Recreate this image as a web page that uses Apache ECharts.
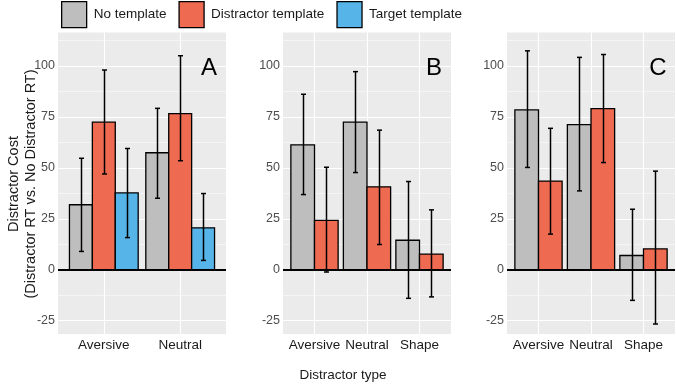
<!DOCTYPE html>
<html>
<head>
<meta charset="utf-8">
<script src="https://cdn.jsdelivr.net/npm/echarts@6/dist/echarts.min.js"></script>
</head>
<body style="margin:0">
<div id="chart" style="width:676px;height:386px"></div>
<script>
const FONT = '"Liberation Sans", Arial, sans-serif';

// categories
const catsA = ['Aversive', 'Neutral'];
const catsBC = ['Aversive', 'Neutral', 'Shape'];
const seriesNames = ['No template', 'Distractor template', 'Target template'];
const colors = ['#BEBEBE', '#EE6A50', '#56B4E9'];

// panel A
const noTplA = [31.9, 57.4], noTplA_lo = [9.0, 35.1], noTplA_hi = [54.7, 79.2];
const disTplA = [72.4, 76.6], disTplA_lo = [47.0, 53.5], disTplA_hi = [98.0, 105.0];
const tgtTplA = [37.7, 20.6], tgtTplA_lo = [15.8, 4.6], tgtTplA_hi = [59.5, 37.4];
// panel B
const noTplB = [61.3, 72.4, 14.5], noTplB_lo = [36.9, 47.7, -14.0], noTplB_hi = [86.1, 97.2, 43.3];
const disTplB = [24.2, 40.7, 7.7], disTplB_lo = [-1.1, 12.4, -13.3], disTplB_hi = [50.3, 68.5, 29.4];
// panel C
const noTplC = [78.4, 71.2, 7.0], noTplC_lo = [50.2, 38.7, -15.0], noTplC_hi = [107.4, 104.2, 29.7];
const disTplC = [43.5, 79.1, 10.3], disTplC_lo = [17.5, 52.6, -26.6], disTplC_hi = [69.4, 105.6, 48.4];

const yTicks = [-25, 0, 25, 50, 75, 100];
const yMin = -31.5, yMax = 116.4;

const panels = [
  { letter: 'A', cats: catsA, left: 58, width: 168,
    sets: [[noTplA, noTplA_lo, noTplA_hi], [disTplA, disTplA_lo, disTplA_hi], [tgtTplA, tgtTplA_lo, tgtTplA_hi]] },
  { letter: 'B', cats: catsBC, left: 283, width: 168,
    sets: [[noTplB, noTplB_lo, noTplB_hi], [disTplB, disTplB_lo, disTplB_hi]] },
  { letter: 'C', cats: catsBC, left: 507, width: 168,
    sets: [[noTplC, noTplC_lo, noTplC_hi], [disTplC, disTplC_lo, disTplC_hi]] }
];

// bar + errorbar drawn per series, dodged like ggplot (width 0.9)
function barItem(s, k) {
  return function (params, api) {
    const w = 0.9 / k;
    const x0 = api.value(0) - 0.45 + s * w;
    const a = api.coord([x0, 0]);
    const b = api.coord([x0 + w, api.value(1)]);
    const lo = api.coord([x0 + w / 2, api.value(2)]);
    const hi = api.coord([x0 + w / 2, api.value(3)]);
    const cx = Math.round(lo[0]) + 0.5, cap = 2.5;
    const line = (x1, y1, x2, y2) => ({ type: 'line', shape: { x1, y1, x2, y2 },
      style: { stroke: '#000', lineWidth: 1.5 } });
    return { type: 'group', children: [
      { type: 'rect', shape: { x: a[0], y: Math.min(a[1], b[1]), width: b[0] - a[0], height: Math.abs(b[1] - a[1]) },
        style: { fill: api.visual('color'), stroke: '#000', lineWidth: 1.3 } },
      line(cx, lo[1], cx, hi[1]),
      line(cx - cap, lo[1], cx + cap, lo[1]),
      line(cx - cap, hi[1], cx + cap, hi[1])
    ] };
  };
}

const grid = [], xAxis = [], yAxis = [], series = [], graphic = [];
panels.forEach((p, g) => {
  const n = p.cats.length;
  grid.push({ left: p.left, width: p.width, top: 32.5, bottom: 52, show: true,
    backgroundColor: '#EBEBEB', borderWidth: 0 });
  xAxis.push({ type: 'value', gridIndex: g, min: -0.6, max: n - 0.4,
    axisLine: { show: false }, splitLine: { show: false },
    axisTick: { show: true, length: 3, customValues: p.cats.map((c, i) => i), lineStyle: { color: '#333' } },
    axisLabel: { customValues: p.cats.map((c, i) => i), formatter: v => p.cats[v] || '',
      fontFamily: FONT, fontSize: 13.5, color: '#1A1A1A', margin: 4 } });
  yAxis.push({ type: 'value', gridIndex: g, min: yMin, max: yMax,
    axisLine: { show: false }, splitLine: { show: false },
    axisTick: { show: true, length: 3, customValues: yTicks, lineStyle: { color: '#333' } },
    axisLabel: { customValues: yTicks, fontFamily: FONT, fontSize: 12.5, color: '#4D4D4D', margin: 3 } });

  // panel grid lines (below the bars)
  const gl = [];
  yTicks.forEach(v => gl.push({ yAxis: v, lineStyle: { width: 1.1 } }));
  [yTicks[0] - 12.5].concat(yTicks.map(v => v + 12.5)).forEach(v => {
    if (v > yMin && v < yMax) gl.push({ yAxis: v, lineStyle: { width: 0.5 } });
  });
  p.cats.forEach((c, i) => gl.push({ xAxis: i, lineStyle: { width: 1.1 } }));
  series.push({ type: 'line', xAxisIndex: g, yAxisIndex: g, data: [], z: 1, silent: true,
    markLine: { z: 1, silent: true, symbol: ['none', 'none'], label: { show: false }, animation: false,
      lineStyle: { color: '#FFFFFF', type: 'solid' }, data: gl } });

  p.sets.forEach((set, s) => {
    series.push({ type: 'custom', name: seriesNames[s], xAxisIndex: g, yAxisIndex: g, z: 3,
      itemStyle: { color: colors[s] },
      renderItem: barItem(s, p.sets.length),
      data: set[0].map((v, i) => [i, v, set[1][i], set[2][i]]) });
  });

  // zero reference line
  series.push({ type: 'line', xAxisIndex: g, yAxisIndex: g, data: [], z: 5, silent: true,
    markLine: { z: 5, silent: true, symbol: ['none', 'none'], label: { show: false }, animation: false,
      lineStyle: { color: '#000', type: 'solid', width: 2.2 }, data: [{ yAxis: 0 }] } });

  graphic.push({ type: 'text', x: p.left + p.width - 17, y: 68, z: 10,
    style: { text: p.letter, font: '24px ' + FONT, fill: '#000', align: 'center', verticalAlign: 'middle' } });
});

graphic.push({ type: 'text', x: 14, y: 184, rotation: Math.PI / 2,
  style: { text: 'Distractor Cost', font: '14.5px ' + FONT, fill: '#1A1A1A', align: 'center', verticalAlign: 'middle' } });
graphic.push({ type: 'text', x: 31, y: 184, rotation: Math.PI / 2,
  style: { text: '(Distractor RT vs. No Distractor RT)', font: '14.5px ' + FONT, fill: '#1A1A1A', align: 'center', verticalAlign: 'middle' } });
graphic.push({ type: 'text', x: 343, y: 375,
  style: { text: 'Distractor type', font: '13.5px ' + FONT, fill: '#1A1A1A', align: 'center', verticalAlign: 'middle' } });

const chart = echarts.init(document.getElementById('chart'));
chart.setOption({
  animation: false,
  legend: { top: 1, left: 61, padding: 0, itemWidth: 25, itemHeight: 26, itemGap: 12, icon: 'rect',
    textStyle: { fontFamily: FONT, fontSize: 13.5, color: '#1A1A1A', padding: [0, 0, 0, 2] },
    data: seriesNames.map((nm, i) => ({ name: nm, itemStyle: { color: colors[i], borderColor: '#000', borderWidth: 1.3 } })) },
  grid, xAxis, yAxis, series, graphic
});
</script>
</body>
</html>
